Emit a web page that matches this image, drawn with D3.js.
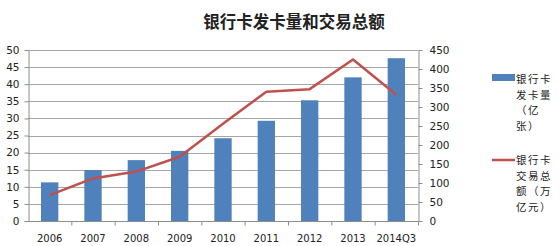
<!DOCTYPE html>
<html lang="zh">
<head>
<meta charset="UTF-8">
<title>银行卡发卡量和交易总额</title>
<script src="https://d3js.org/d3.v7.min.js"></script>
<style>
    body { margin: 0; background: #fff; }
    svg { display: block; font-family: "Noto Sans CJK SC", "DejaVu Sans", sans-serif; }
</style>
</head>
<body>
<svg id="chart" width="560" height="246"></svg>
<script>
    const categories = ["2006", "2007", "2008", "2009", "2010", "2011", "2012", "2013", "2014Q3"];
    const cardCount = [11.3, 14.9, 17.8, 20.5, 24.2, 29.3, 35.3, 42.0, 47.6];   // 亿张
    const tradeTotal = [68, 112, 130, 169, 256, 340, 347, 425, 332];          // 万亿元
    const leftTicks = [0, 5, 10, 15, 20, 25, 30, 35, 40, 45, 50];
    const rightTicks = [0, 50, 100, 150, 200, 250, 300, 350, 400, 450];
    const legendBar = ["银行卡", "发卡量", "（亿", "张）"];
    const legendLine = ["银行卡", "交易总", "额（万", "亿元）"];

    const svg = d3.select("#chart");
    const plotL = 28, plotR = 418, plotT = 50, plotB = 221;

    const x = d3.scaleBand().domain(categories).range([plotL, plotR]).paddingInner(0).paddingOuter(0);
    const yL = d3.scaleLinear().domain([0, 50]).range([plotB, plotT]);
    const yR = d3.scaleLinear().domain([0, 450]).range([plotB, plotT]);

    // 标题
    svg.append("text")
        .attr("x", 294).attr("y", 28)
        .attr("text-anchor", "middle")
        .style("font-size", "16.5px").style("font-weight", "bold")
        .attr("fill", "#222")
        .text("银行卡发卡量和交易总额");

    // 网格线
    svg.append("g").selectAll("line")
        .data(leftTicks)
        .join("line")
        .attr("x1", plotL).attr("x2", plotR)
        .attr("y1", d => Math.round(yL(d)) + 0.5).attr("y2", d => Math.round(yL(d)) + 0.5)
        .attr("stroke", "#a6a6a6").attr("stroke-width", 1);

    // 柱子
    const bw = x.bandwidth() / 2.5;
    svg.append("g").selectAll("rect")
        .data(cardCount)
        .join("rect")
        .attr("x", (d, i) => x(categories[i]) + (x.bandwidth() - bw) / 2)
        .attr("y", d => yL(d))
        .attr("width", bw)
        .attr("height", d => plotB - yL(d))
        .attr("fill", "#4f81bd");

    // 坐标轴
    const axisStyle = g => {
        g.selectAll("path, line").attr("stroke", "#8c8c8c");
        g.selectAll("text").style("font-size", "10.5px").style("font-family", "'DejaVu Sans', sans-serif").attr("fill", "#222");
    };
    svg.append("g")
        .attr("transform", `translate(${plotL + 0.5},0)`)
        .call(d3.axisLeft(yL).tickValues(leftTicks).tickSize(4).tickSizeOuter(0).tickPadding(5))
        .call(axisStyle);
    svg.append("g")
        .attr("transform", `translate(${plotR + 0.5},0)`)
        .call(d3.axisRight(yR).tickValues(rightTicks).tickSize(4).tickSizeOuter(0).tickPadding(7))
        .call(axisStyle);

    const xAxis = svg.append("g").attr("transform", `translate(0,${plotB + 0.5})`);
    xAxis.append("line").attr("x1", plotL).attr("x2", plotR).attr("stroke", "#8c8c8c");
    xAxis.selectAll(".tk")
        .data(categories)
        .join("line")
        .attr("class", "tk")
        .attr("x1", d => x(d) + x.bandwidth() + 0.5).attr("x2", d => x(d) + x.bandwidth() + 0.5)
        .attr("y1", 0).attr("y2", 4)
        .attr("stroke", "#8c8c8c");
    xAxis.selectAll(".lb")
        .data(categories)
        .join("text")
        .attr("class", "lb")
        .attr("x", d => x(d) + x.bandwidth() / 2)
        .attr("y", 20)
        .attr("text-anchor", "middle")
        .style("font-size", "10px").style("font-family", "'DejaVu Sans', sans-serif")
        .attr("fill", "#222")
        .text(d => d);

    // 折线
    const line = d3.line()
        .x((d, i) => x(categories[i]) + x.bandwidth() / 2)
        .y(d => yR(d));
    svg.append("path")
        .datum(tradeTotal)
        .attr("d", line)
        .attr("fill", "none")
        .attr("stroke", "#c0504d")
        .attr("stroke-width", 2.5)
        .attr("stroke-linejoin", "round");

    // 图例
    const lg = svg.append("g");
    lg.append("rect").attr("x", 492).attr("y", 74).attr("width", 23).attr("height", 7).attr("fill", "#4f81bd");
    lg.append("line").attr("x1", 492).attr("x2", 515).attr("y1", 160).attr("y2", 160)
        .attr("stroke", "#c0504d").attr("stroke-width", 2.5);
    const legendText = (lines, y0, step) => lg.append("g")
        .selectAll("text")
        .data(lines)
        .join("text")
        .attr("x", 516)
        .attr("y", (d, i) => y0 + i * step)
        .style("font-size", "10.5px").style("letter-spacing", "1.5px")
        .attr("fill", "#222")
        .text(d => d);
    legendText(legendBar, 83, 15.5);
    legendText(legendLine, 164, 15.7);
</script>
</body>
</html>
